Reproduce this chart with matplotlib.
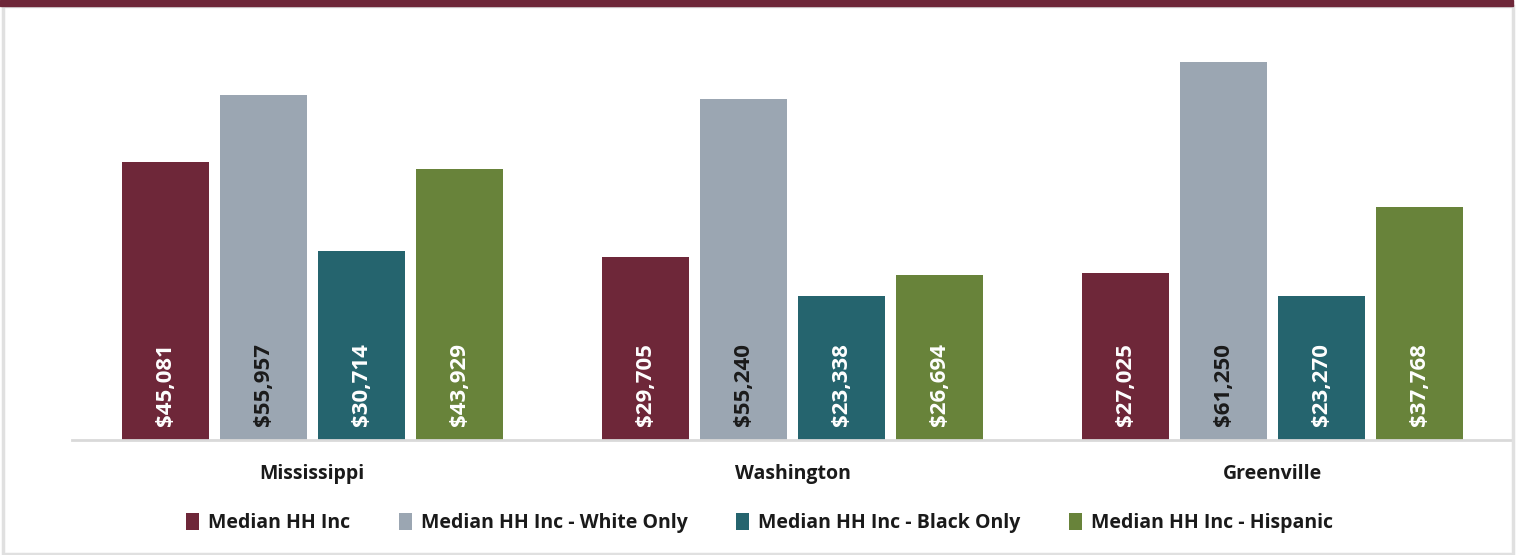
import matplotlib
matplotlib.use("Agg")
import matplotlib.pyplot as plt
from matplotlib.patches import Rectangle
import numpy as np

plt.rcParams["font.family"] = ["Open Sans", "DejaVu Sans"]

# Median household income by area and group
CATEGORIES = ["Mississippi", "Washington", "Greenville"]
SERIES = [
    "Median HH Inc",
    "Median HH Inc - White Only",
    "Median HH Inc - Black Only",
    "Median HH Inc - Hispanic",
]
VALUES = [
    [45081, 29705, 27025],
    [55957, 55240, 61250],
    [30714, 23338, 23270],
    [43929, 26694, 37768],
]
COLORS = ["#6E2739", "#9BA6B2", "#25646E", "#68833A"]
LABEL_COLORS = ["white", "#1a1a1a", "white", "white"]

fig = plt.figure(figsize=(15.19, 5.55), dpi=100)
ax = fig.add_axes([72 / 1519, 1 - 440 / 555, (1513 - 72) / 1519, (440 - 8.3) / 555])

x = np.arange(len(CATEGORIES))
width = 0.181
step = 0.204
offsets = (np.arange(len(SERIES)) - 1.5) * step

handles = []
for i, name in enumerate(SERIES):
    bars = ax.bar(x + offsets[i], VALUES[i], width, color=COLORS[i], label=name, zorder=2)
    handles.append(bars)
    for xb, v in zip(x + offsets[i], VALUES[i]):
        ax.annotate(f"${v:,}", xy=(xb, 0), xytext=(0, 10), textcoords="offset points",
                    rotation=90, ha="center", va="bottom", color=LABEL_COLORS[i],
                    fontsize=16, fontweight="bold")

ax.set_xlim(-0.5, len(CATEGORIES) - 0.5)
ax.set_ylim(0, 70000)
ax.set_yticks([])
ax.set_xticks(x)
ax.set_xticklabels(CATEGORIES, fontsize=14, fontweight="bold", color="#1a1a1a")
ax.tick_params(axis="x", length=0, pad=17.5)
for s in ["top", "right", "left"]:
    ax.spines[s].set_visible(False)
ax.spines["bottom"].set_color("#D9D9D9")
ax.spines["bottom"].set_linewidth(2)

leg = fig.legend(handles=handles, labels=SERIES, loc="center", ncol=4,
                 bbox_to_anchor=(0.5, 1 - 523 / 555), frameon=False,
                 prop={"size": 14, "weight": "bold"}, handlelength=0.68,
                 handleheight=1.0, handletextpad=0.45, columnspacing=2.5)
for t in leg.get_texts():
    t.set_color("#1a1a1a")

# frame decorations: maroon top bar and light grey borders
fig.patches.append(Rectangle((0, 1 - 6 / 555), 1513 / 1519, 6 / 555, transform=fig.transFigure,
                             color="#6E2739", zorder=5))
fig.patches.append(Rectangle((3 / 1519, 1 / 555), 1510 / 1519, 1 - 7 / 555,
                             transform=fig.transFigure, fill=False,
                             edgecolor="#E0E0E0", linewidth=2.5, zorder=4))

fig.savefig("out.png", dpi=100)
